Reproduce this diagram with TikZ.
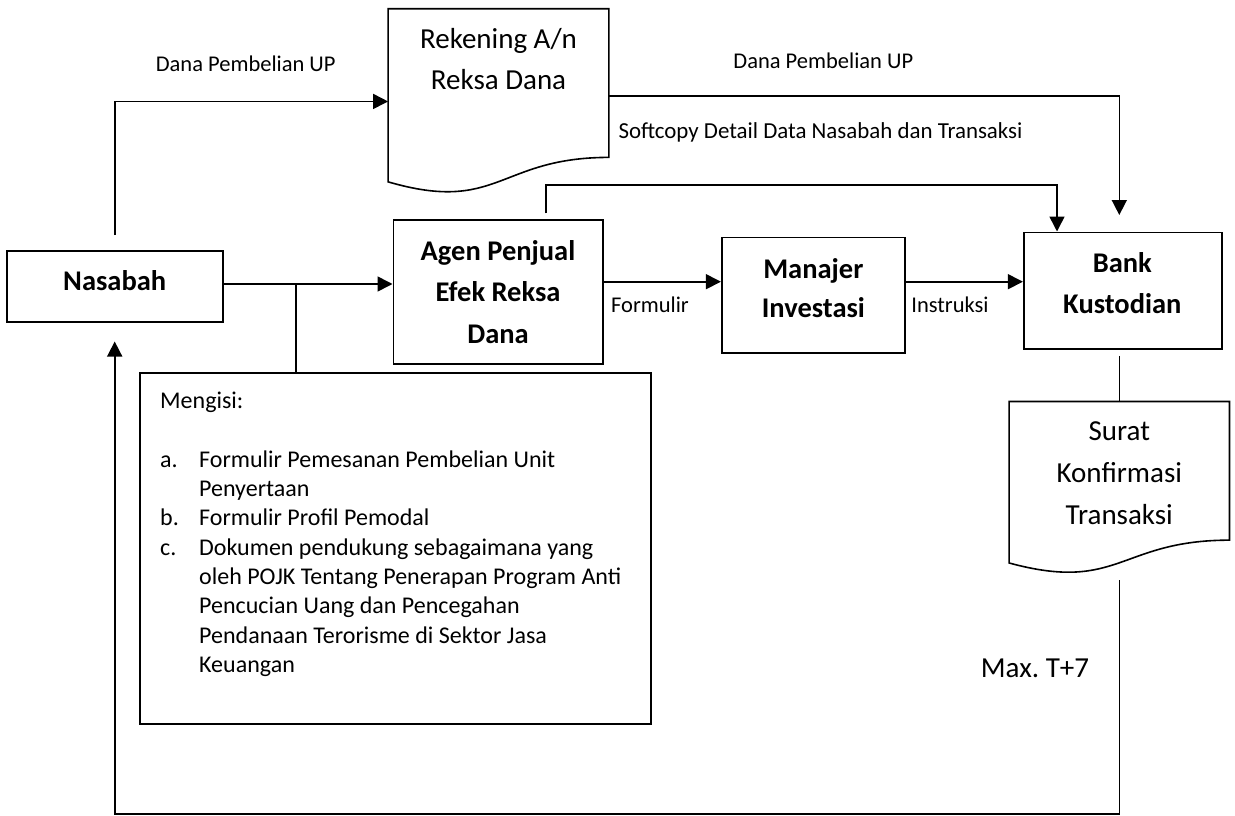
\documentclass[tikz,border=0pt]{standalone}
\usepackage{fontspec}
\setmainfont{Carlito}
\usetikzlibrary{arrows.meta,calc}
\frenchspacing
\newcommand\docoutline[1]{\draw[line,line join=miter] (#1.north west) -- (#1.north east) -- ($(#1.north east)!0.80194!(#1.south east)$) .. controls ($(#1.north)!0.80194!(#1.south)$) and ($(#1.north)!1.10750!(#1.south)$) .. ($(#1.north west)!0.93389!(#1.south west)$) -- cycle;}
\begin{document}
\begin{tikzpicture}[x=1pt,y=-1pt,
  line/.style={draw=black,line width=1.6pt},
  arr/.style={line,-{Triangle[length=15pt,width=15pt]}},
  boxnode/.style={draw=black,line width=1.6pt,rectangle,inner sep=0pt},
  area/.style={rectangle,inner sep=0pt,draw=none},
  bigbold/.style={align=center,inner sep=0pt,font=\fontsize{28.5}{41}\selectfont\bfseries},
  bigreg/.style={align=center,inner sep=0pt,font=\fontsize{29}{41}\selectfont},
  lbl/.style={inner sep=0pt,font=\fontsize{22.5}{29.3}\selectfont}]
\useasboundingbox (0,0) rectangle (1235,816);

% boxes
\node[boxnode,minimum width=216pt,minimum height=71pt] (nasabah) at (114.7,286.5) {};
\node[bigbold] (nasabahtext) at (114.7,281) {Nasabah};
\node[boxnode,minimum width=209.4pt,minimum height=144pt] (agen) at (498,292) {};
\node[bigbold,font=\fontsize{28.5}{41.3}\selectfont\bfseries] (agentext) at (498,292) {Agen Penjual\\Efek Reksa\\Dana};
\node[boxnode,minimum width=183.3pt,minimum height=115.4pt] (manajer) at (813.35,295) {};
\node[bigbold,font=\fontsize{28.5}{39}\selectfont\bfseries] (manajertext) at (813.35,287.8) {Manajer\\Investasi};
\node[boxnode,minimum width=198pt,minimum height=116.7pt] (bank) at (1122.7,290.65) {};
\node[bigbold] (banktext) at (1122.3,282.8) {Bank\\Kustodian};

% documents
\node[area,minimum width=220.4pt,minimum height=184.9pt] (rek) at (498.5,101.45) {};
\docoutline{rek}
\node[bigreg] (rektext) at (498.5,59.5) {Rekening A/n\\Reksa Dana};
\node[area,minimum width=220pt,minimum height=172.5pt] (surat) at (1119.3,487.95) {};
\docoutline{surat}
\node[bigreg,font=\fontsize{29}{41.7}\selectfont] (surattext) at (1119.3,473) {Surat\\Konfirmasi\\Transaksi};

% Mengisi box
\node[boxnode,minimum width=510.7pt,minimum height=351.3pt] (mengisi) at (395.35,548.35) {};
\node[lbl,font=\fontsize{24}{29.3}\selectfont,anchor=base west] (mengisitext) at (160,408.7) {\begin{tabular}[t]{@{}p{39pt}@{}l@{}}
\multicolumn{2}{@{}l@{}}{Mengisi:}\\
 & \\
a. & Formulir Pemesanan Pembelian Unit\\
 & Penyertaan\\
b. & Formulir Profil Pemodal\\
c. & Dokumen pendukung sebagaimana yang\\
 & oleh POJK Tentang Penerapan Program Anti\\
 & Pencucian Uang dan Pencegahan\\
 & Pendanaan Terorisme di Sektor Jasa\\
 & Keuangan
\end{tabular}};

% labels
\node[lbl,anchor=base] (l1) at (245.7,71) {Dana Pembelian UP};
\node[lbl,anchor=base] (l2) at (823.3,69) {Dana Pembelian UP};
\node[lbl,font=\fontsize{22.9}{29.3}\selectfont,anchor=base west] (l3) at (618.3,139) {Softcopy Detail Data Nasabah dan Transaksi};
\node[lbl,anchor=base] (l4) at (650,312) {Formulir};
\node[lbl,anchor=base] (l5) at (950,312) {Instruksi};
\node[bigreg,anchor=base] (l6) at (1035,677.3) {Max. T+7};

% helper coordinates
\coordinate (branch) at (295.7,284);
\coordinate (midrow) at (0,281.7);
\coordinate (toprow) at (0,96);
\coordinate (softrow) at (0,185);
\coordinate (agenout) at (546,213.3);
\coordinate (bankin) at (1119.3,215);
\coordinate (suratout) at (1119.3,580);
\coordinate (bottomrow) at (0,814);

% connectors
\draw[arr] ([yshift=15pt]nasabah.north) |- (rek.west);
\draw[arr] (nasabah.east |- branch) -- (agen.west |- branch);
\draw[line] (branch) -- (branch |- mengisi.north);
\draw[arr] (agen.east |- midrow) -- (manajer.west |- midrow);
\draw[arr] (manajer.east |- midrow) -- (bank.west |- midrow);
\draw[arr] (rek.east |- toprow) -| (bankin);
\draw[arr] (agenout) -- (agenout |- softrow) -| ([xshift=-65.7pt]bank.north);
\draw[line] ([xshift=-3.4pt,yshift=-6pt]bank.south) -- (surat.north);
\draw[arr] (suratout) -- (suratout |- bottomrow) -| ([yshift=-18.7pt]nasabah.south);
\end{tikzpicture}
\end{document}
